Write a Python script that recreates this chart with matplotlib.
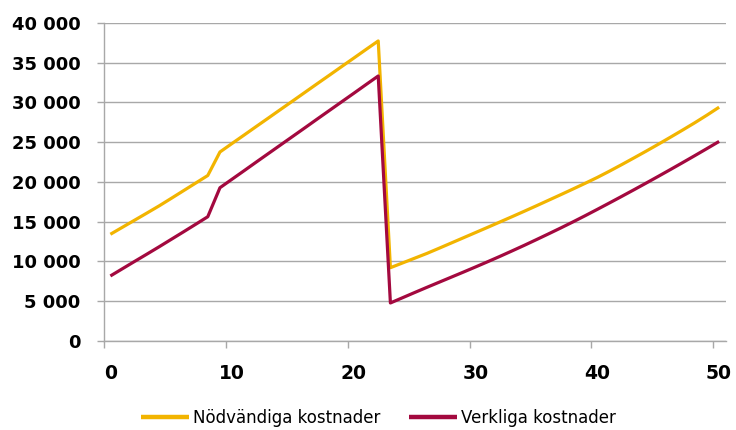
import matplotlib
matplotlib.use("Agg")
import matplotlib.pyplot as plt
import matplotlib.transforms as mtransforms
from matplotlib.ticker import FuncFormatter, MultipleLocator

# Period midpoints (0.5 ... 50.5)
periods = [i + 0.5 for i in range(51)]

nodvandiga = [
    13400, 14290, 15180, 16070, 16970, 17920, 18880, 19840, 20800,
    23760, 24840, 25910, 26990, 28060, 29140, 30210, 31290, 32370,
    33440, 34520, 35590, 36670, 37740,
    9190, 9790, 10390, 10990, 11640, 12300, 12960, 13620, 14280,
    14950, 15620, 16300, 16990, 17690, 18390, 19100, 19820, 20560,
    21350, 22170, 23010, 23860, 24730, 25620, 26520, 27440, 28400,
    29400,
]

verkliga = [
    8150, 9070, 9990, 10900, 11820, 12760, 13700, 14650, 15610,
    19260, 20340, 21420, 22510, 23590, 24670, 25750, 26830, 27920,
    29000, 30080, 31160, 32250, 33330,
    4750, 5410, 6070, 6720, 7360, 8000, 8640, 9290, 9950,
    10620, 11310, 12010, 12730, 13460, 14200, 14960, 15740, 16540,
    17350, 18170, 19000, 19840, 20690, 21550, 22420, 23300, 24190,
    25090,
]

series_labels = ["Nödvändiga kostnader", "Verkliga kostnader"]
series_colors = ["#F2B400", "#A3093F"]

fig = plt.figure(figsize=(7.36, 4.30), dpi=100)
ax = fig.add_axes([0.1417, 0.2077, 0.8453, 0.7388])

grid_color = "#A8A8A8"

ax.plot(periods, nodvandiga, color=series_colors[0], lw=2.3,
        label=series_labels[0], solid_capstyle="butt", zorder=3)
ax.plot(periods, verkliga, color=series_colors[1], lw=2.3,
        label=series_labels[1], solid_capstyle="butt", zorder=3)

ax.set_xlim(0, 51.1)
ax.set_ylim(0, 40000)
ax.xaxis.set_major_locator(MultipleLocator(10))
ax.yaxis.set_major_locator(MultipleLocator(5000))
ax.yaxis.set_major_formatter(
    FuncFormatter(lambda v, p: f"{int(v):,}".replace(",", " ")))

ax.grid(axis="y", color=grid_color, lw=1.0, zorder=0)
ax.set_axisbelow(True)

for side in ("top", "right"):
    ax.spines[side].set_visible(False)
for side in ("left", "bottom"):
    ax.spines[side].set_color(grid_color)
    ax.spines[side].set_linewidth(1.0)

ax.tick_params(axis="both", direction="out", length=5, width=1.0,
               color=grid_color, labelcolor="black", labelsize=13)
ax.tick_params(axis="x", pad=12, labelsize=13.5)
ax.tick_params(axis="y", pad=12)
shift = mtransforms.ScaledTranslation(6 / 100, 0, fig.dpi_scale_trans)
for lbl in ax.get_xticklabels():
    lbl.set_fontweight("bold")
    lbl.set_transform(lbl.get_transform() + shift)
for lbl in ax.get_yticklabels():
    lbl.set_fontweight("bold")

fig.legend(loc="center", bbox_to_anchor=(0.514, 0.028), ncol=2,
           frameon=False, fontsize=12, handlelength=2.9,
           handletextpad=0.25, columnspacing=1.7)
for line in fig.legends[0].get_lines():
    line.set_linewidth(3.2)

fig.savefig("out.png", dpi=100)
